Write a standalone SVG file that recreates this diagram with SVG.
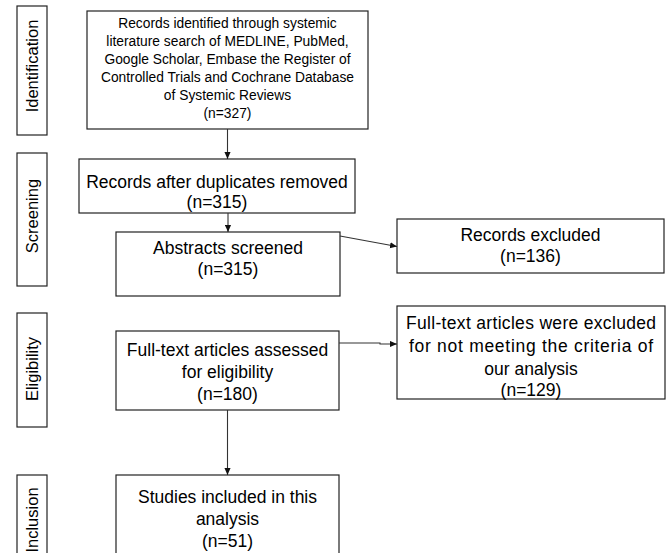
<svg xmlns="http://www.w3.org/2000/svg" width="671" height="553" viewBox="0 0 671 553">
<defs>
<marker id="ah" viewBox="0 0 8 8" refX="8" refY="4" markerWidth="7" markerHeight="7" markerUnits="userSpaceOnUse" orient="auto">
<path d="M0,0.5 L8,4 L0,7.5 Z" fill="#111"/>
</marker>
<style>
rect{fill:#fff;stroke:#222;stroke-width:1.2}
text{font-family:"Liberation Sans",Arial,sans-serif;fill:#000;text-anchor:middle}
.s{font-size:13.8px}
.m{font-size:17.5px}
.side{font-size:16.5px}
.c{fill:none;stroke:#333;stroke-width:1.1;marker-end:url(#ah)}
</style>
</defs>
<rect x="0" y="0" width="671" height="553" style="fill:#fff;stroke:none"/>

<g id="stage-identification">
<rect x="17" y="6" width="30" height="129"/>
<text class="side" transform="translate(38,66) rotate(-90)">Identification</text>
</g>
<g id="stage-screening">
<rect x="17" y="153" width="30" height="133"/>
<text class="side" transform="translate(38,216) rotate(-90)">Screening</text>
</g>
<g id="stage-eligibility">
<rect x="17" y="313" width="30" height="114"/>
<text class="side" transform="translate(38,369) rotate(-90)">Eligibility</text>
</g>
<g id="stage-inclusion">
<rect x="17" y="475" width="30" height="90"/>
<text class="side" transform="translate(38,520) rotate(-90)">Inclusion</text>
</g>

<g id="records-identified">
<rect x="87" y="11" width="281" height="118"/>
<text class="s" x="227.5" y="28">Records identified through systemic</text>
<text class="s" x="227.5" y="46">literature search of MEDLINE, PubMed,</text>
<text class="s" x="227.5" y="64">Google Scholar, Embase the Register of</text>
<text class="s" x="227.5" y="82">Controlled Trials and Cochrane Database</text>
<text class="s" x="227.5" y="100">of Systemic Reviews</text>
<text class="s" x="227.5" y="118">(n=327)</text>
</g>

<g id="records-after-duplicates">
<rect x="79" y="159" width="276" height="54"/>
<text class="m" x="217" y="188">Records after duplicates removed</text>
<text class="m" x="217" y="208">(n=315)</text>
</g>

<g id="abstracts-screened">
<rect x="116" y="232" width="224" height="64"/>
<text class="m" x="228" y="254">Abstracts screened</text>
<text class="m" x="228" y="275">(n=315)</text>
</g>

<g id="records-excluded">
<rect x="397" y="219" width="267" height="54"/>
<text class="m" x="530.5" y="241">Records excluded</text>
<text class="m" x="530.5" y="262">(n=136)</text>
</g>

<g id="fulltext-assessed">
<rect x="116" y="331" width="223" height="79"/>
<text class="m" x="227.5" y="356">Full-text articles assessed</text>
<text class="m" x="227.5" y="378">for eligibility</text>
<text class="m" x="227.5" y="400">(n=180)</text>
</g>

<g id="fulltext-excluded">
<rect x="397" y="306" width="268" height="93"/>
<text class="m" x="531" y="329" textLength="250">Full-text articles were excluded</text>
<text class="m" x="531" y="352" textLength="244">for not meeting the criteria of</text>
<text class="m" x="531" y="375">our analysis</text>
<text class="m" x="531" y="396">(n=129)</text>
</g>

<g id="studies-included">
<rect x="116" y="475" width="223" height="90"/>
<text class="m" x="227.5" y="503">Studies included in this</text>
<text class="m" x="227.5" y="525">analysis</text>
<text class="m" x="227.5" y="547">(n=51)</text>
</g>

<g id="connectors">
<line class="c" x1="227.5" y1="129" x2="227.5" y2="159"/>
<line class="c" x1="228" y1="213" x2="228" y2="232"/>
<line class="c" x1="340" y1="236" x2="397" y2="246.5"/>
<polyline class="c" points="339,343 380,343 380,344 397,344"/>
<line class="c" x1="227.5" y1="410" x2="227.5" y2="475"/>
</g>
</svg>
